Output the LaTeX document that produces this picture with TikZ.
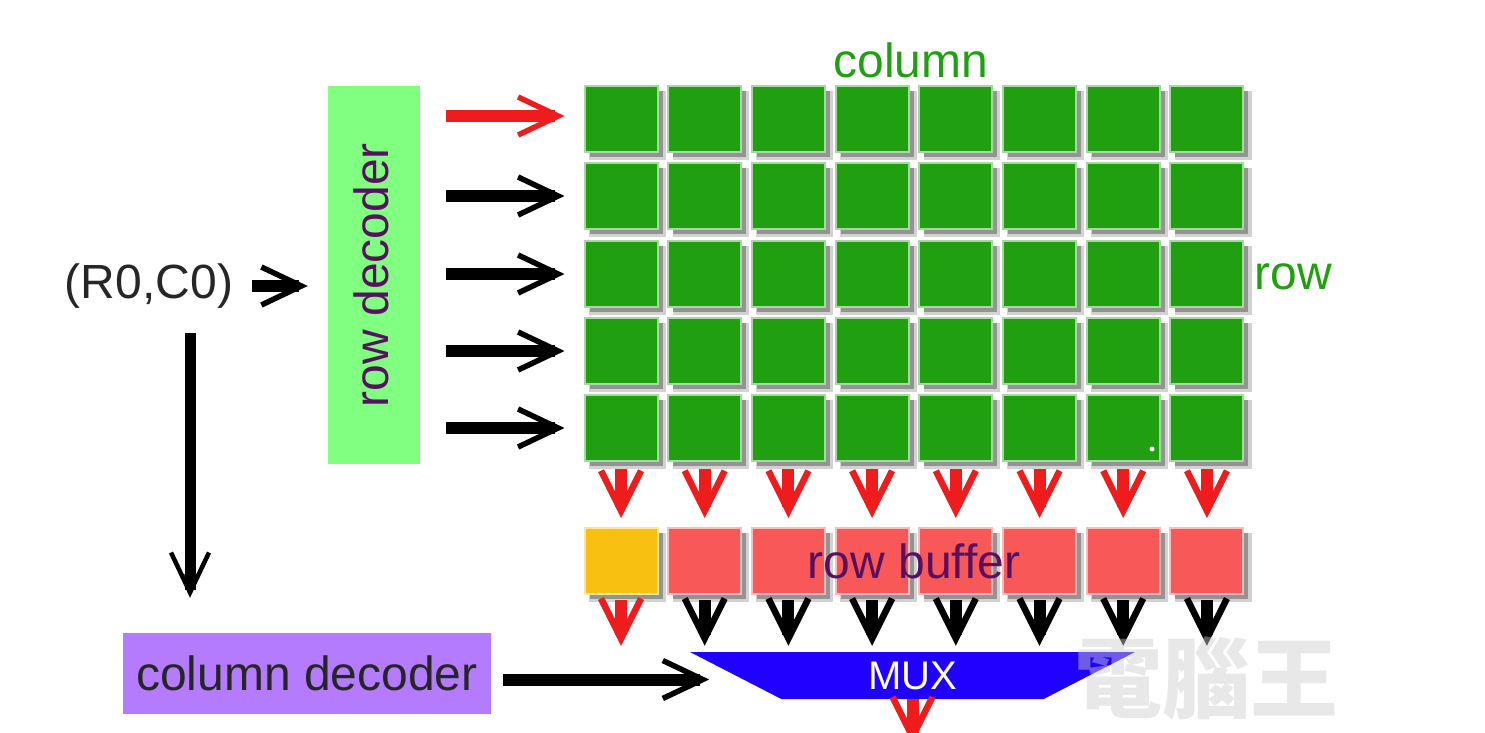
\documentclass[tikz,border=0pt]{standalone}
\usepackage{fontspec}
\setmainfont{Liberation Sans}
\newfontfamily\cjkfont{Noto Sans CJK TC}
\usetikzlibrary{arrows.meta,shapes.geometric,shadows}
\definecolor{cellgreen}{HTML}{20A010}
\definecolor{deccolor}{HTML}{80FF80}
\definecolor{buffred}{HTML}{F85858}
\definecolor{buffgold}{HTML}{F8C010}
\definecolor{colpurple}{HTML}{B57BFF}
\definecolor{labelpurple}{HTML}{5A1060}
\definecolor{arrowred}{HTML}{EE1C1C}
\definecolor{muxblue}{HTML}{2000FF}
\newcommand{\bigfont}{\fontsize{48}{50}\selectfont}
\tikzset{
 cell/.style={minimum width=73pt, minimum height=66pt, inner sep=0pt, line width=2pt,
  general shadow={shadow xshift=6pt, shadow yshift=-6pt, shadow scale=1.05, fill=gray!35},
  general shadow={shadow xshift=5pt, shadow yshift=-5pt, fill=gray!85}},
 greencell/.style={cell, fill=cellgreen, draw=cellgreen!40!white},
 buffcell/.style={cell, fill=buffred, draw=buffred!40!white},
 hbar/.style={line width=12pt, -{Triangle[length=14pt, width=12pt, sep=-38pt] Straight Barb[length=40pt, width=38pt, line width=5.5pt]}},
 vbar/.style={line width=12pt, -{Triangle[length=14pt, width=12pt, sep=-38pt] Straight Barb[length=40pt, width=40pt, line width=6.5pt]}},
 longbar/.style={line width=11pt, -{Triangle[length=14pt, width=11pt, sep=-38pt] Straight Barb[length=40pt, width=38pt, line width=4.5pt]}},
 biglabel/.style={font=\bigfont, inner sep=0pt}
}
\begin{document}
\begin{tikzpicture}[x=1pt, y=-1pt, line cap=butt]
\useasboundingbox (0,0) rectangle (1485,733);
\clip (0,0) rectangle (1485,733);
\def\pitch{83.7}
% cell array and row buffer
\foreach \r/\y in {1/119,2/196,3/274,4/351,5/428}
 \foreach \c in {1,...,8}
  \node[greencell] (c\r\c) at ({621+\pitch*(\c-1)},\y) {};
\foreach \c in {1,...,8}
 \node[buffcell] (b\c) at ({621+\pitch*(\c-1)},561) {};
\node[cell, fill=buffgold, draw=buffgold!40!white] at (b1) {};
\fill[white] (1152,449) circle(2.5);
% boxes
\node[fill=deccolor, minimum width=92pt, minimum height=378pt, inner sep=0pt] (rowdec) at (374,275) {};
\node[biglabel, rotate=90, text=labelpurple] at (371,275) {row decoder};
\node[fill=colpurple, minimum width=368pt, minimum height=81pt, inner sep=0pt, font=\bigfont, text=black!85] (coldec) at (307,673.5) {column decoder};
\node[trapezium, shape border rotate=180, trapezium stretches body=true, trapezium angle=17, fill=muxblue, text=white,
 minimum width=445pt, minimum height=47pt, inner sep=0pt, font=\fontsize{40}{42}\selectfont] (mux) at (912.5,675.5) {MUX};
% labels
\node[biglabel, text=cellgreen] (collab) at (911,60) {column};
\node[biglabel, text=cellgreen] (rowlab) at (1293,277) {row};
\node[biglabel, text=labelpurple] (buflab) at (914,561) {row buffer};
\node[biglabel, text=black!85] (addr) at (149,286) {(R0,C0)};
% arrows
\draw[hbar, shorten <=19pt, shorten >=20pt] (addr.east) -- (addr.east -| rowdec.west);
\draw[longbar, shorten <=24pt, shorten >=35pt] ([xshift=41pt]addr.south) -- ([xshift=41pt]addr.south |- coldec.north);
\draw[hbar, arrowred, shorten <=26pt, shorten >=19pt] ([yshift=3pt]rowdec.east |- c11.west) -- ([yshift=3pt]c11.west);
\foreach \r in {2,...,5}
 \draw[hbar, shorten <=26pt, shorten >=19pt] (rowdec.east |- c\r1.west) -- (c\r1.west);
\foreach \c in {1,...,8}
 \draw[vbar, arrowred, shorten <=7pt, shorten >=9pt] (c5\c.south) -- (b\c.north);
\draw[vbar, arrowred, shorten <=5pt, shorten >=6pt] (b1.south) -- (b1.south |- mux.north);
\foreach \c in {2,...,8}
 \draw[vbar, shorten <=5pt, shorten >=6pt] (b\c.south) -- (b\c.south |- mux.north);
\draw[hbar, shorten <=12pt, shorten >=26pt] ([yshift=-6pt]coldec.east) -- ([yshift=-6pt]coldec.east -| mux.west);
\coordinate (muxout) at ([yshift=-45pt]mux.south);
\draw[vbar, arrowred] (mux.south) -- (muxout);
\node[font=\cjkfont\bfseries\fontsize{88}{90}\selectfont, text=gray!40, opacity=.45, inner sep=0pt] (mark) at (1206,678) {電腦王};
\end{tikzpicture}
\end{document}
